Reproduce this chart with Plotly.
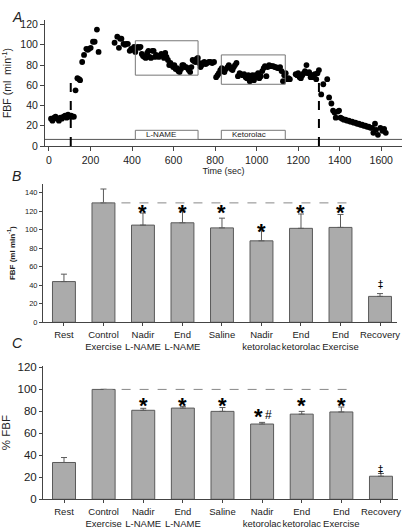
import plotly.graph_objects as go

# ---------------- Panel A data ----------------
time_s = [10, 17, 25, 32, 40, 48, 55, 62, 70, 78, 85, 92, 100, 107, 114, 120,
          128, 137, 145, 150, 160, 169, 180, 187, 193, 201, 212, 220, 231, 239,
          316, 329, 337, 343, 349, 359, 366, 372, 380, 389, 396, 403, 410, 416, 422, 428,
          435, 441, 447, 453, 460, 466, 473, 479, 485, 491, 498, 504, 510, 516, 523, 529,
          535, 541, 548, 554, 560, 566, 573, 579, 585, 592, 598, 604, 610, 617, 623, 629,
          636, 642, 648, 654, 661, 667, 673, 680, 686, 692, 698, 705, 711, 717, 723, 730,
          736, 742, 748, 755, 762, 770, 778, 786, 795,
          805, 812, 818, 825, 832, 838, 845, 852, 860, 866, 872, 878, 884, 890, 896, 903,
          910, 918, 925, 932, 940, 947, 953, 960, 967, 973, 980, 987, 994, 1000, 1007, 1013,
          1020, 1027, 1034, 1040, 1047, 1053, 1060, 1067, 1073, 1080, 1087, 1093, 1100, 1107,
          1113, 1120, 1127, 1133, 1140, 1147, 1153, 1160,
          1188, 1195, 1200, 1207, 1213, 1220, 1227, 1233, 1240, 1247, 1253, 1260, 1267, 1273,
          1280, 1287, 1293, 1300,
          1311, 1321, 1340, 1349, 1360, 1368, 1375, 1381, 1390, 1397, 1404, 1412, 1420, 1428,
          1436, 1444, 1452, 1460, 1468, 1476, 1484, 1492, 1500, 1508, 1516, 1524, 1532, 1540,
          1548, 1556, 1562, 1570, 1575, 1584, 1596, 1606, 1614, 1622]
fbf_ml = [27, 25, 28, 29, 27, 25, 28, 27, 29, 30, 28, 31, 29, 30, 29, 29,
          55, 67, 66, 65, 83, 90, 96, 95, 96, 97, 103, 103, 115, 93,
          102, 108, 97, 106, 106, 101, 100, 101, 101, 94, 96, 95, 98, 93, 97, 98,
          97, 98, 91, 89, 88, 87, 92, 94, 88, 87, 94, 94, 88, 90, 89, 88,
          89, 91, 90, 87, 92, 88, 85, 80, 82, 80, 78, 80, 76, 77, 74, 73,
          76, 80, 80, 78, 78, 77, 75, 73, 78, 85, 84, 83, 86, 87, 82, 78,
          80, 82, 83, 81, 82, 83, 83, 82, 83,
          68, 70, 72, 75, 77, 74, 73, 76, 78, 80, 78, 76, 75, 78, 80, 82,
          69, 72, 71, 70, 71, 68, 67, 70, 64, 69, 70, 65, 70, 68, 72, 67,
          69, 74, 77, 79, 69, 78, 80, 79, 79, 79, 78, 78, 77, 77,
          78, 74, 64, 70, 72, 66, 67, 66,
          71, 70, 72, 68, 67, 70, 72, 74, 80, 72, 73, 68, 70, 68,
          71, 66, 72, 75,
          51, 61, 66, 48, 42, 35, 33, 28, 34, 35, 28, 27, 26, 26,
          25, 25, 24, 24, 23, 23, 22, 22, 21, 21, 20, 20, 19, 19,
          18, 18, 13, 22, 16, 11, 18, 15, 17, 13]

# boxes / markers on panel A (time ranges)
lname_period = [416, 718]
ketorolac_period = [830, 1138]
lname_box_fbf = [70, 104]
ketorolac_box_fbf = [61, 90]
exercise_marks = [105, 1300]

# ---------------- Panels B and C data ----------------
conditions = ["Rest", "Control<br>Exercise", "Nadir<br>L-NAME", "End<br>L-NAME", "Saline",
              "Nadir<br>ketorolac", "End<br>ketorolac", "End<br>Exercise", "Recovery"]
fbf_mean = [44, 129, 105, 107.5, 102, 88, 101.5, 102.5, 28]
fbf_err = [8, 15, 13, 13, 10.5, 11, 15.5, 14, 3]
fbf_marks = ["", "", "*", "*", "*", "*", "*", "*", "‡"]
fbf_mark_y = [0, 0, 125, 125, 125, 105, 125, 125, 41]

pct_mean = [33.5, 100, 81, 83, 80, 68.5, 77.5, 79.5, 21]
pct_err = [4.5, 0, 1.8, 1.6, 3.5, 1.5, 2.5, 4.5, 2.5]
pct_marks = ["", "", "*", "*", "*", "*#", "*", "*", "‡"]
pct_mark_y = [0, 0, 90.5, 90.5, 90.5, 81, 90.5, 90.5, 27]

FONT = "Liberation Sans, Arial, sans-serif"
BAR_FILL = "#ababab"
BAR_LINE = "#5a5a5a"

W, H = 404, 529


def py(px):
    return 1 - px / H


def pxx(px):
    return px / W


fig = go.Figure()

# Panel A scatter
fig.add_trace(go.Scatter(x=time_s, y=fbf_ml, mode="markers",
                         marker=dict(color="black", size=5.8),
                         xaxis="x", yaxis="y", showlegend=False, cliponaxis=False))

# Panel B bars
fig.add_trace(go.Bar(x=list(range(len(conditions))), y=fbf_mean, width=0.58,
                     marker=dict(color=BAR_FILL, line=dict(color=BAR_LINE, width=1)),
                     error_y=dict(type="data", array=fbf_err, arrayminus=[0] * 9, symmetric=False,
                                  color=BAR_LINE, thickness=1, width=3),
                     xaxis="x2", yaxis="y2", showlegend=False))

# Panel C bars
fig.add_trace(go.Bar(x=list(range(len(conditions))), y=pct_mean, width=0.58,
                     marker=dict(color=BAR_FILL, line=dict(color=BAR_LINE, width=1)),
                     error_y=dict(type="data", array=pct_err, arrayminus=[0] * 9, symmetric=False,
                                  color=BAR_LINE, thickness=1, width=3),
                     xaxis="x3", yaxis="y3", showlegend=False))

axis_common = dict(showline=True, linecolor="#444", linewidth=1, ticks="outside",
                   tickcolor="#444", showgrid=False, zeroline=False, automargin=False,
                   tickangle=0)

shapes = []
annotations = []

fig.update_layout(
    xaxis=dict(domain=[pxx(45), pxx(402)], range=[-19, 1700], anchor="y",
               tickvals=[0, 200, 400, 600, 800, 1000, 1200, 1400, 1600],
               ticklen=4, tickfont=dict(size=10.5, color="#222"),
               title=dict(text="Time (sec)", font=dict(size=9, color="#222"), standoff=2),
               **axis_common),
    yaxis=dict(domain=[py(146), py(20)], range=[0, 124.5], anchor="x",
               tickvals=[0, 20, 40, 60, 80, 100, 120], ticklen=4,
               tickfont=dict(size=10.5, color="#222"),
               title=dict(text="FBF (ml  min<sup>-1</sup>)", font=dict(size=10.5, color="#222"),
                          standoff=6),
               **axis_common),
    xaxis2=dict(domain=[pxx(43), pxx(397)], range=[-0.53, 8.43], anchor="y2",
                tickvals=list(range(9)), ticktext=conditions, ticklen=3,
                tickfont=dict(size=9.5, color="#222"), **axis_common),
    yaxis2=dict(domain=[py(322.3), py(184)], range=[0, 149.4], anchor="x2",
                tickvals=[0, 20, 40, 60, 80, 100, 120, 140], ticklen=3,
                tickfont=dict(size=7.5, color="#222"),
                title=dict(text="<b>FBF (ml min<sup>-1</sup>)</b>", font=dict(size=8, color="#222"),
                           standoff=8),
                **axis_common),
    xaxis3=dict(domain=[pxx(43), pxx(398)], range=[-0.53, 8.43], anchor="y3",
                tickvals=list(range(9)), ticktext=conditions, ticklen=3,
                tickfont=dict(size=9.5, color="#222"), **axis_common),
    yaxis3=dict(domain=[py(499.3), py(366)], range=[0, 121.3], anchor="x3",
                tickvals=[0, 20, 40, 60, 80, 100, 120], ticklen=3,
                tickfont=dict(size=11.5, color="#222"),
                title=dict(text="% FBF", font=dict(size=11.5, color="#222"), standoff=6),
                **axis_common),
)

# Panel A decorations
shapes.append(dict(type="line", xref="x", yref="y", x0=-19, x1=1700, y0=6.5, y1=6.5,
                   line=dict(color="#555", width=1)))
for (x0, x1), (y0, y1) in [(lname_period, lname_box_fbf), (ketorolac_period, ketorolac_box_fbf)]:
    shapes.append(dict(type="rect", xref="x", yref="y", x0=x0, x1=x1, y0=y0, y1=y1,
                       line=dict(color="#777", width=1), fillcolor="rgba(0,0,0,0)"))
    shapes.append(dict(type="rect", xref="x", yref="y", x0=x0, x1=x1, y0=6.5, y1=15.5,
                       line=dict(color="#777", width=1), fillcolor="white"))
annotations.append(dict(x=lname_period[0] + 40, y=11, xref="x", yref="y", text="L-NAME",
                        showarrow=False, xanchor="left", font=dict(size=8, color="#222", family=FONT)))
annotations.append(dict(x=ketorolac_period[0] + 40, y=11, xref="x", yref="y", text="Ketorolac",
                        showarrow=False, xanchor="left", font=dict(size=8, color="#222", family=FONT)))
for xm in exercise_marks:
    shapes.append(dict(type="line", xref="x", yref="y", x0=xm, x1=xm, y0=0, y1=70,
                       line=dict(color="black", width=2, dash="dash")))

# Panel B / C dashed reference lines
shapes.append(dict(type="line", xref="x2", yref="y2", x0=1, x1=7.3, y0=fbf_mean[1], y1=fbf_mean[1],
                   line=dict(color="#888", width=1, dash="dash")))
shapes.append(dict(type="line", xref="x3", yref="y3", x0=1, x1=7.3, y0=pct_mean[1], y1=pct_mean[1],
                   line=dict(color="#888", width=1, dash="dash")))


def mark_annots(i, m, yv, xref, yref):
    if m == "‡":
        return [dict(x=i, y=yv, xref=xref, yref=yref, text="‡", showarrow=False,
                     yanchor="middle", font=dict(size=10, color="black", family="DejaVu Sans"))]
    star = dict(x=i, y=yv, xref=xref, yref=yref, text="<b>*</b>", showarrow=False,
                yanchor="middle", yshift=-6, font=dict(size=22, color="black", family=FONT))
    if m == "*":
        return [star]
    star["xshift"] = -4
    hashm = dict(x=i, y=yv, xref=xref, yref=yref, text="#", showarrow=False,
                 yanchor="middle", xshift=6, yshift=-5, font=dict(size=12, color="black", family=FONT))
    return [star, hashm]


for i, m in enumerate(fbf_marks):
    if m:
        annotations.extend(mark_annots(i, m, fbf_mark_y[i], "x2", "y2"))
for i, m in enumerate(pct_marks):
    if m:
        annotations.extend(mark_annots(i, m, pct_mark_y[i], "x3", "y3"))

# Panel letters
for letter, ypx in [("A", 7), ("B", 166), ("C", 343)]:
    annotations.append(dict(x=pxx(10), y=py(ypx), xref="paper", yref="paper", text=f"<i>{letter}</i>",
                            showarrow=False, font=dict(size=14, color="#222", family=FONT)))

fig.update_layout(
    width=W, height=H, margin=dict(l=0, r=0, t=0, b=0),
    paper_bgcolor="white", plot_bgcolor="white",
    font=dict(family=FONT, color="#222"),
    shapes=shapes, annotations=annotations, bargap=0.4,
)

fig.write_html("out.html", config={"displayModeBar": False},
               post_script="document.body.style.margin='0px';document.body.style.overflow='hidden';")
